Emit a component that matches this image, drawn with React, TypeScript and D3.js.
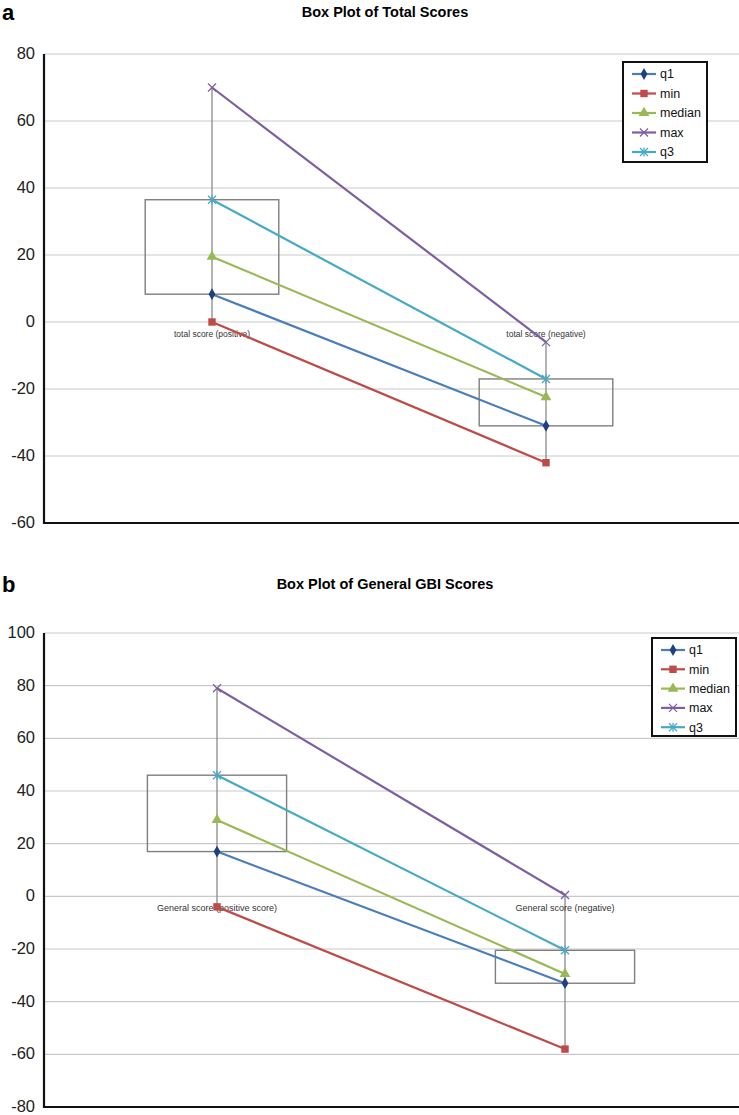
import React from 'react';
import * as d3 from 'd3';

// series and values
const seriesNames = ['q1', 'min', 'median', 'max', 'q3'];
const seriesColors = ['#4A7EBB', '#BE4B48', '#98B954', '#7D60A0', '#46AAC5'];
const markerFills = ['#1F3F7F', '#BE4B48', '#98B954', '#7D60A0', '#46AAC5'];

const totalCategories = ['total score (positive)', 'total score (negative)'];
const totalQ1 = [8.3, -31];
const totalMin = [0, -42];
const totalMedian = [19.5, -22.4];
const totalMax = [70, -6];
const totalQ3 = [36.5, -17];
const totalTicks = [80, 60, 40, 20, 0, -20, -40, -60];

const generalCategories = ['General score (positive score)', 'General score (negative)'];
const generalQ1 = [17, -33];
const generalMin = [-4, -58];
const generalMedian = [29, -29.5];
const generalMax = [79, 0.5];
const generalQ3 = [46, -20.5];
const generalTicks = [100, 80, 60, 40, 20, 0, -20, -40, -60, -80];

const FONT = '"Liberation Sans", Arial, sans-serif';

const markerPath = (i: number, size: number) => {
  const types = [d3.symbolDiamond, d3.symbolSquare, d3.symbolTriangle, d3.symbolCross, d3.symbolCross];
  return d3.symbol(types[i], size)();
};

const Marker = ({ i, x, y }: { i: number; x: number; y: number }) => {
  const c = seriesColors[i];
  if (i === 3) {
    // X marker
    return (
      <g transform={`translate(${x},${y})`} stroke={c} strokeWidth={1.3}>
        <line x1={-4} y1={-4} x2={4} y2={4} />
        <line x1={-4} y1={4} x2={4} y2={-4} />
      </g>
    );
  }
  if (i === 4) {
    // star (x with vertical)
    return (
      <g transform={`translate(${x},${y})`} stroke={c} strokeWidth={1.3}>
        <line x1={-4} y1={-4} x2={4} y2={4} />
        <line x1={-4} y1={4} x2={4} y2={-4} />
        <line x1={0} y1={-4.5} x2={0} y2={4.5} />
      </g>
    );
  }
  const sizes = [40, 55, 50];
  return <path transform={`translate(${x},${y})`} d={markerPath(i, sizes[i]) || ''} fill={markerFills[i]} />;
};

type PanelProps = {
  letter: string;
  title: string;
  titleY: number;
  categories: string[];
  series: number[][];
  ticks: number[];
  yTop: number;
  yBottom: number;
  xLeft: number;
  xRight: number;
  catFont: number;
  legend: { x: number; y: number; w: number; h: number; step: number };
};

const Panel = (p: PanelProps) => {
  const axisX = 44;
  const y = d3.scaleLinear().domain([d3.min(p.ticks)!, d3.max(p.ticks)!]).range([p.yBottom, p.yTop]);
  const x = d3.scaleBand().domain(p.categories).range([p.xLeft, p.xRight]);
  const cx = (c: string) => (x(c) || 0) + x.bandwidth() / 2;
  const boxW = x.bandwidth() * 0.4;
  const [q1, mn, med, mx, q3] = p.series;
  const line = d3.line<number>().x((_, k) => cx(p.categories[k])).y(v => y(v));

  return (
    <g>
      <text x={2} y={p.titleY + 8} fontFamily={FONT} fontWeight="bold" fontSize={22}>{p.letter}</text>
      <text x={385} y={p.titleY + 5} fontFamily={FONT} fontWeight="bold" fontSize={14.5} textAnchor="middle">{p.title}</text>
      {/* gridlines */}
      {p.ticks.map(t => (
        <line key={t} x1={axisX} x2={739} y1={y(t)} y2={y(t)} stroke="#c9c9c9" strokeWidth={1.2} />
      ))}
      {/* tick labels */}
      {p.ticks.map(t => (
        <text key={'l' + t} x={35} y={y(t)} dy="0.3em" textAnchor="end" fontFamily={FONT} fontSize={16.5} fill="#222">{t}</text>
      ))}
      {/* whiskers */}
      {p.categories.map((c, k) => (
        <line key={'w' + c} x1={cx(c)} x2={cx(c)} y1={y(mx[k])} y2={y(mn[k])} stroke="#8a8a8a" strokeWidth={1.3} />
      ))}
      {/* boxes */}
      {p.categories.map((c, k) => (
        <rect key={'b' + c} x={cx(c) - boxW / 2} y={y(q3[k])} width={boxW} height={y(q1[k]) - y(q3[k])}
          fill="none" stroke="#7f7f7f" strokeWidth={1.4} />
      ))}
      {/* category labels */}
      {p.categories.map(c => (
        <text key={'c' + c} x={cx(c)} y={y(0) + 15} textAnchor="middle" fontFamily={FONT} fontSize={p.catFont} fill="#333">{c}</text>
      ))}
      {/* series lines */}
      {p.series.map((vals, i) => (
        <path key={'s' + i} d={line(vals) || ''} fill="none" stroke={seriesColors[i]} strokeWidth={2.2} />
      ))}
      {p.series.map((vals, i) => vals.map((v, k) => (
        <Marker key={'m' + i + k} i={i} x={cx(p.categories[k])} y={y(v)} />
      )))}
      {/* axes */}
      <line x1={axisX} x2={axisX} y1={y.range()[1]} y2={y.range()[0] + 1} stroke="#111" strokeWidth={2.2} />
      <line x1={axisX} x2={739} y1={y.range()[0]} y2={y.range()[0]} stroke="#111" strokeWidth={2.2} />
      {/* legend */}
      <rect x={p.legend.x} y={p.legend.y} width={p.legend.w} height={p.legend.h} fill="#fff" stroke="#111" strokeWidth={2} />
      {seriesNames.map((n, i) => {
        const ly = p.legend.y + 12 + i * p.legend.step;
        const lx = p.legend.x + 9;
        return (
          <g key={'lg' + n}>
            <line x1={lx} x2={lx + 24} y1={ly} y2={ly} stroke={seriesColors[i]} strokeWidth={2.2} />
            <Marker i={i} x={lx + 12} y={ly} />
            <text x={lx + 28} y={ly} dy="0.35em" fontFamily={FONT} fontSize={12.5} fill="#111">{n}</text>
          </g>
        );
      })}
    </g>
  );
};

export default function App() {
  const totalSeries = [totalQ1, totalMin, totalMedian, totalMax, totalQ3];
  const generalSeries = [generalQ1, generalMin, generalMedian, generalMax, generalQ3];
  return (
    <svg width={739} height={1115} style={{ position: 'absolute', left: 0, top: 0, background: '#fff' }}>
      <Panel
        letter="a"
        title="Box Plot of Total Scores"
        titleY={12}
        categories={totalCategories}
        series={totalSeries}
        ticks={totalTicks}
        yTop={54}
        yBottom={523}
        xLeft={45}
        xRight={713}
        catFont={8.5}
        legend={{ x: 623, y: 62, w: 84, h: 100, step: 19.5 }}
      />
      <Panel
        letter="b"
        title="Box Plot of General GBI Scores"
        titleY={584}
        categories={generalCategories}
        series={generalSeries}
        ticks={generalTicks}
        yTop={633}
        yBottom={1107}
        xLeft={43}
        xRight={739}
        catFont={9}
        legend={{ x: 652, y: 638, w: 84, h: 98, step: 19.3 }}
      />
    </svg>
  );
}
